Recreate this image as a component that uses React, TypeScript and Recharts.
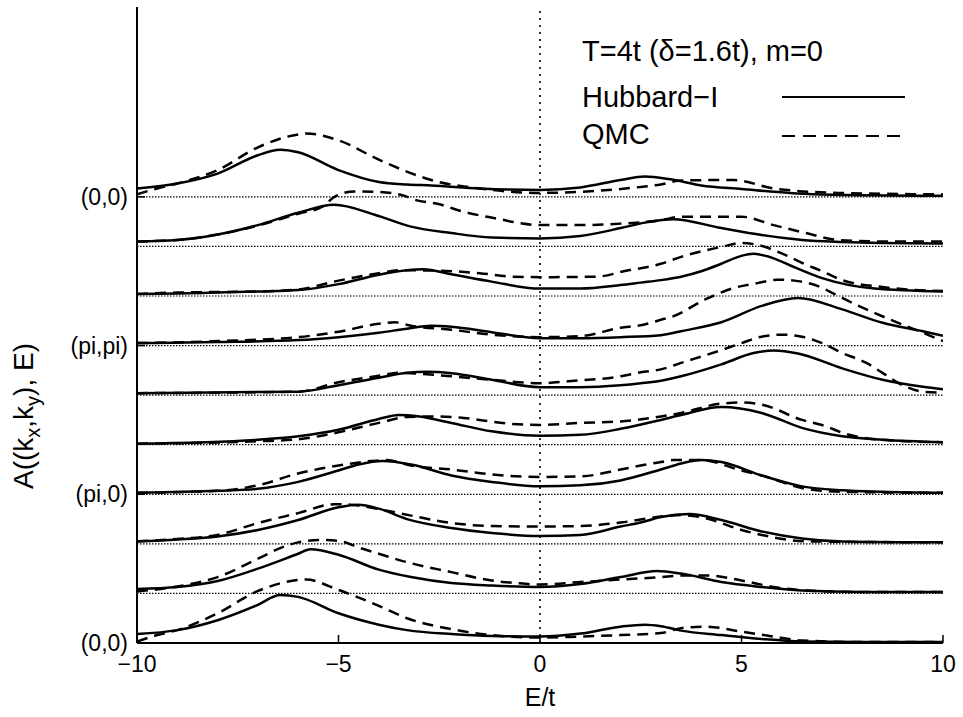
import { LineChart, Line, XAxis, YAxis, ReferenceLine, Customized } from "recharts";

const FONT = "'Liberation Sans', Arial, Helvetica, sans-serif";

const energyTicks = [-10, -5, 0, 5, 10];
const kPointRows = [0, 3, 6, 9];
const kPointLabels = ["(0,0)", "(pi,0)", "(pi,pi)", "(0,0)"];

// spectral weight: [E/t, A], rows from bottom (0,0) to top (0,0)
const hubbard0 = [[-10, 0.18], [-9, 0.26], [-8, 0.46], [-7, 0.77], [-6.45, 0.97], [-6, 0.93], [-5, 0.6], [-4, 0.37], [-3.3, 0.26], [-2.2, 0.18], [-1.2, 0.14], [0, 0.13], [1, 0.19], [2, 0.33], [2.6, 0.37], [3, 0.34], [3.5, 0.25], [4.5, 0.16], [5.5, 0.08], [6.5, 0.03], [8, 0.02], [10, 0.02]];
const hubbard1 = [[-10, 0.09], [-9, 0.13], [-8, 0.25], [-7, 0.5], [-6, 0.8], [-5.7, 0.89], [-5, 0.78], [-4, 0.48], [-3.2, 0.33], [-2.2, 0.21], [-1.2, 0.16], [0, 0.13], [1, 0.19], [2, 0.33], [2.9, 0.45], [3.5, 0.4], [4.5, 0.23], [5.5, 0.13], [6.5, 0.06], [8, 0.03], [10, 0.03]];
const hubbard2 = [[-10, 0.05], [-9, 0.09], [-8, 0.15], [-7, 0.28], [-6, 0.48], [-5, 0.74], [-4.5, 0.79], [-4, 0.71], [-3.3, 0.5], [-2.2, 0.32], [-1.2, 0.22], [0, 0.16], [1, 0.18], [2, 0.35], [2.5, 0.43], [3, 0.54], [3.7, 0.6], [4.5, 0.48], [5.5, 0.25], [6.5, 0.11], [7.5, 0.05], [10, 0.03]];
const hubbard3 = [[-10, 0.03], [-8, 0.07], [-7, 0.11], [-6, 0.25], [-5, 0.48], [-4.5, 0.6], [-3.9, 0.67], [-3.2, 0.6], [-2.2, 0.38], [-1.2, 0.25], [0, 0.16], [1, 0.18], [2, 0.28], [3, 0.5], [3.5, 0.62], [4, 0.69], [4.5, 0.65], [5.5, 0.38], [6.5, 0.16], [7.5, 0.08], [8.5, 0.05], [10, 0.03]];
const hubbard4 = [[-10, 0.02], [-7, 0.1], [-6, 0.17], [-5, 0.3], [-4, 0.52], [-3.5, 0.6], [-3, 0.57], [-2.2, 0.44], [-1.2, 0.27], [0, 0.18], [1, 0.2], [2, 0.32], [3, 0.5], [3.5, 0.6], [4.5, 0.76], [5.5, 0.64], [6.5, 0.34], [7.5, 0.17], [8.5, 0.1], [10, 0.05]];
const hubbard5 = [[-10, 0.04], [-6, 0.07], [-5, 0.2], [-4, 0.35], [-3.3, 0.45], [-2.8, 0.47], [-2.2, 0.44], [-1.2, 0.31], [0, 0.16], [1, 0.16], [2, 0.2], [2.5, 0.24], [3, 0.29], [3.5, 0.38], [4.5, 0.62], [5.3, 0.85], [5.8, 0.9], [6.4, 0.84], [7.5, 0.54], [8.5, 0.31], [9.5, 0.17], [10, 0.12]];
const hubbard6 = [[-10, 0.05], [-8, 0.07], [-6, 0.11], [-5, 0.17], [-4, 0.26], [-3.3, 0.34], [-2.7, 0.4], [-2.2, 0.38], [-1.2, 0.27], [0, 0.15], [1, 0.15], [2, 0.17], [3, 0.21], [3.5, 0.29], [4.5, 0.47], [5.5, 0.8], [6.4, 0.96], [7.5, 0.73], [8.5, 0.46], [9.5, 0.29], [10, 0.2]];
const hubbard7 = [[-10, 0.04], [-9, 0.05], [-8, 0.07], [-7, 0.09], [-6, 0.12], [-5, 0.24], [-4, 0.43], [-3.3, 0.52], [-2.9, 0.54], [-2.2, 0.44], [-1.2, 0.29], [0, 0.15], [1, 0.15], [2, 0.22], [2.5, 0.27], [3, 0.32], [3.5, 0.39], [4, 0.5], [4.5, 0.65], [5, 0.81], [5.3, 0.85], [5.8, 0.76], [6.2, 0.62], [7, 0.36], [8.3, 0.15], [10, 0.09]];
const hubbard8 = [[-10, 0.1], [-9, 0.13], [-8, 0.24], [-7, 0.43], [-6, 0.68], [-5.1, 0.84], [-4.1, 0.64], [-3.2, 0.4], [-2.2, 0.27], [-1.2, 0.18], [0, 0.16], [1, 0.21], [2, 0.37], [2.6, 0.48], [3.3, 0.55], [4.5, 0.37], [5.5, 0.23], [6.5, 0.13], [7.5, 0.09], [8.5, 0.07], [10, 0.06]];
const hubbard9 = [[-10, 0.17], [-9, 0.27], [-8, 0.47], [-7, 0.84], [-6.45, 0.95], [-6, 0.9], [-5, 0.54], [-4, 0.3], [-3.3, 0.25], [-2.7, 0.23], [-1.5, 0.17], [0, 0.14], [1, 0.19], [2, 0.34], [2.6, 0.41], [3.2, 0.36], [4, 0.23], [5, 0.16], [6.2, 0.08], [7, 0.05], [8, 0.03], [10, 0.02]];

const qmc0 = [[-10, 0.03], [-9.5, 0.16], [-9, 0.26], [-8, 0.6], [-7, 1.05], [-6, 1.27], [-5.8, 1.28], [-5, 1.07], [-4, 0.75], [-3.3, 0.5], [-2.2, 0.28], [-1.2, 0.16], [0, 0.11], [1, 0.13], [2, 0.16], [3, 0.2], [3.5, 0.3], [4.1, 0.33], [5, 0.23], [5.8, 0.13], [6.5, 0.05], [8, 0.02], [10, 0.02]];
const qmc1 = [[-10, 0.04], [-9, 0.14], [-8, 0.33], [-7, 0.7], [-6.4, 0.93], [-6, 1.03], [-5.4, 1.08], [-5, 1.06], [-4.4, 0.9], [-4, 0.8], [-3.3, 0.63], [-2.2, 0.43], [-1.2, 0.26], [-0.6, 0.21], [0, 0.18], [1, 0.23], [2, 0.28], [3, 0.33], [3.5, 0.36], [4.2, 0.36], [5, 0.26], [5.8, 0.13], [6.6, 0.06], [8, 0.03], [10, 0.03]];
const qmc2 = [[-10, 0.05], [-9, 0.1], [-8, 0.18], [-7, 0.42], [-6, 0.62], [-5.1, 0.8], [-4.7, 0.79], [-4, 0.7], [-3.2, 0.57], [-2.2, 0.42], [-1.2, 0.36], [0, 0.35], [1, 0.36], [2, 0.43], [3, 0.55], [3.5, 0.58], [4.1, 0.52], [5, 0.28], [5.5, 0.18], [6.6, 0.05], [10, 0.03]];
const qmc3 = [[-10, 0.03], [-8, 0.07], [-7, 0.18], [-6, 0.42], [-5, 0.58], [-4.2, 0.67], [-3.8, 0.69], [-3.2, 0.58], [-2.2, 0.5], [-1.2, 0.4], [0, 0.35], [1, 0.36], [2, 0.5], [2.5, 0.58], [3, 0.65], [3.3, 0.69], [4, 0.69], [5, 0.48], [5.5, 0.38], [6.6, 0.11], [7.5, 0.05], [10, 0.03]];
const qmc4 = [[-10, 0.02], [-7, 0.07], [-6, 0.11], [-5, 0.25], [-4, 0.44], [-3.3, 0.56], [-2.7, 0.57], [-2, 0.55], [-1.5, 0.5], [-0.7, 0.42], [0, 0.4], [1, 0.44], [2, 0.47], [3, 0.57], [3.5, 0.64], [4.5, 0.83], [5, 0.85], [5.5, 0.81], [6.5, 0.5], [7.1, 0.37], [7.5, 0.24], [8.5, 0.1], [10, 0.05]];
const qmc5 = [[-10, 0.04], [-6, 0.07], [-5, 0.26], [-4, 0.39], [-3.5, 0.45], [-2.2, 0.38], [-1.2, 0.31], [0, 0.24], [0.7, 0.28], [2, 0.38], [2.5, 0.46], [3, 0.52], [3.5, 0.65], [4.5, 0.91], [5, 1.05], [5.5, 1.18], [6, 1.22], [6.5, 1.18], [7, 1.05], [7.5, 0.85], [8.1, 0.65], [8.5, 0.45], [9, 0.2], [9.5, 0.07], [10, 0.05]];
const qmc6 = [[-10, 0.05], [-8, 0.09], [-6, 0.17], [-5, 0.28], [-4, 0.44], [-3.6, 0.47], [-3.2, 0.4], [-2.2, 0.32], [-1.2, 0.22], [0, 0.17], [1, 0.19], [2, 0.36], [2.5, 0.41], [3, 0.52], [3.3, 0.59], [4.1, 0.93], [4.8, 1.16], [5.4, 1.26], [5.9, 1.33], [6.4, 1.3], [6.9, 1.2], [7.4, 1.0], [8.1, 0.73], [8.7, 0.52], [9.1, 0.39], [9.5, 0.26], [10, 0.09]];
const qmc7 = [[-10, 0.04], [-9, 0.07], [-8, 0.08], [-7, 0.09], [-6, 0.13], [-5, 0.31], [-4, 0.46], [-3.5, 0.52], [-2.5, 0.51], [-1.5, 0.46], [-0.7, 0.39], [0, 0.38], [1.4, 0.39], [2.2, 0.52], [2.5, 0.56], [3, 0.65], [3.5, 0.79], [4, 0.9], [4.5, 0.99], [5, 1.07], [5.4, 1.03], [6, 0.86], [6.5, 0.67], [7, 0.5], [7.5, 0.32], [8.5, 0.18], [10, 0.1]];
const qmc8 = [[-10, 0.1], [-9, 0.13], [-8, 0.24], [-7, 0.42], [-6, 0.66], [-5.4, 0.8], [-5.1, 1.0], [-4.6, 1.11], [-4, 1.1], [-3.4, 1.03], [-3.1, 0.94], [-2.5, 0.85], [-1.9, 0.7], [-1, 0.55], [-0.5, 0.47], [0, 0.43], [1, 0.43], [2, 0.46], [3, 0.53], [3.5, 0.6], [5, 0.6], [5.8, 0.43], [6.6, 0.27], [7.4, 0.13], [8.5, 0.1], [10, 0.1]];
const qmc9 = [[-10, 0.05], [-9.5, 0.17], [-9, 0.27], [-8, 0.54], [-7, 1.0], [-6, 1.26], [-5.8, 1.28], [-5, 1.14], [-4, 0.75], [-3.4, 0.54], [-2.7, 0.34], [-1.5, 0.17], [0, 0.08], [1.4, 0.12], [2.5, 0.2], [3, 0.25], [3.5, 0.33], [4.8, 0.34], [5.8, 0.17], [7.4, 0.08], [10, 0.05]];

const hubbardRows = [hubbard0, hubbard1, hubbard2, hubbard3, hubbard4, hubbard5, hubbard6, hubbard7, hubbard8, hubbard9];
const qmcRows = [qmc0, qmc1, qmc2, qmc3, qmc4, qmc5, qmc6, qmc7, qmc8, qmc9];

// each k-point is lifted by its row index
const shifted = (pts: number[][], row: number) => pts.map(([e, a]) => ({ e, a: a + row }));

function Annotations() {
  return (
    <g fontFamily={FONT} fill="#000">
      <text x={582} y={61} fontSize={29}>T=4t (δ=1.6t), m=0</text>
      <text x={582} y={107} fontSize={29}>Hubbard−I</text>
      <text x={582} y={144} fontSize={29}>QMC</text>
      <line x1={782} x2={905} y1={97} y2={97} stroke="#000" strokeWidth={2.2} />
      <line x1={782} x2={905} y1={136} y2={136} stroke="#000" strokeWidth={2.2} strokeDasharray="13 8" />
      <text x={540} y={706} textAnchor="middle" fontSize={25}>E/t</text>
      <text transform="translate(33,416) rotate(-90)" textAnchor="middle" fontSize={28}>
        A((k<tspan dy={7} fontSize={20}>x</tspan>
        <tspan dy={-7}>,k</tspan>
        <tspan dy={7} fontSize={20}>y</tspan>
        <tspan dy={-7}>), E)</tspan>
      </text>
    </g>
  );
}

export default function App() {
  return (
    <div style={{ position: "absolute", left: 0, top: 0, background: "#fff" }}>
      <LineChart width={963} height={717} margin={{ top: 7, right: 20, bottom: 34, left: 77 }}>
        <XAxis
          type="number"
          dataKey="e"
          domain={[-10, 10]}
          ticks={energyTicks}
          interval={0}
          allowDataOverflow
          height={40}
          tickSize={-8}
          tickMargin={21}
          tickFormatter={(v: number) => String(v).replace("-", "−")}
          axisLine={{ stroke: "#000", strokeWidth: 2 }}
          tickLine={{ stroke: "#000", strokeWidth: 1.5 }}
          tick={{ fill: "#000", fontSize: 23, fontFamily: FONT }}
        />
        <YAxis
          type="number"
          domain={[0, 12.83]}
          ticks={kPointRows}
          interval={0}
          allowDataOverflow
          width={60}
          tickSize={-8}
          tickMargin={17}
          tickFormatter={(v: number) => kPointLabels[kPointRows.indexOf(v)]}
          axisLine={{ stroke: "#000", strokeWidth: 2 }}
          tickLine={{ stroke: "#000", strokeWidth: 1.5 }}
          tick={{ fill: "#000", fontSize: 23, fontFamily: FONT }}
        />
        {hubbardRows.map((_, i) =>
          i > 0 ? (
            <ReferenceLine key={"base" + i} y={i} stroke="#000" strokeWidth={1.2} strokeDasharray="1.5 1.5" />
          ) : null
        )}
        <ReferenceLine x={0} stroke="#000" strokeWidth={1.6} strokeDasharray="2 5" />
        {hubbardRows.map((pts, i) => (
          <Line
            key={"h" + i}
            data={shifted(pts, i)}
            dataKey="a"
            type="monotone"
            dot={false}
            stroke="#000"
            strokeWidth={2.5}
            isAnimationActive={false}
          />
        ))}
        {qmcRows.map((pts, i) => (
          <Line
            key={"q" + i}
            data={shifted(pts, i)}
            dataKey="a"
            type="monotone"
            dot={false}
            stroke="#000"
            strokeWidth={2.5}
            strokeDasharray="11 7"
            isAnimationActive={false}
          />
        ))}
        <Customized component={Annotations} />
      </LineChart>
    </div>
  );
}
